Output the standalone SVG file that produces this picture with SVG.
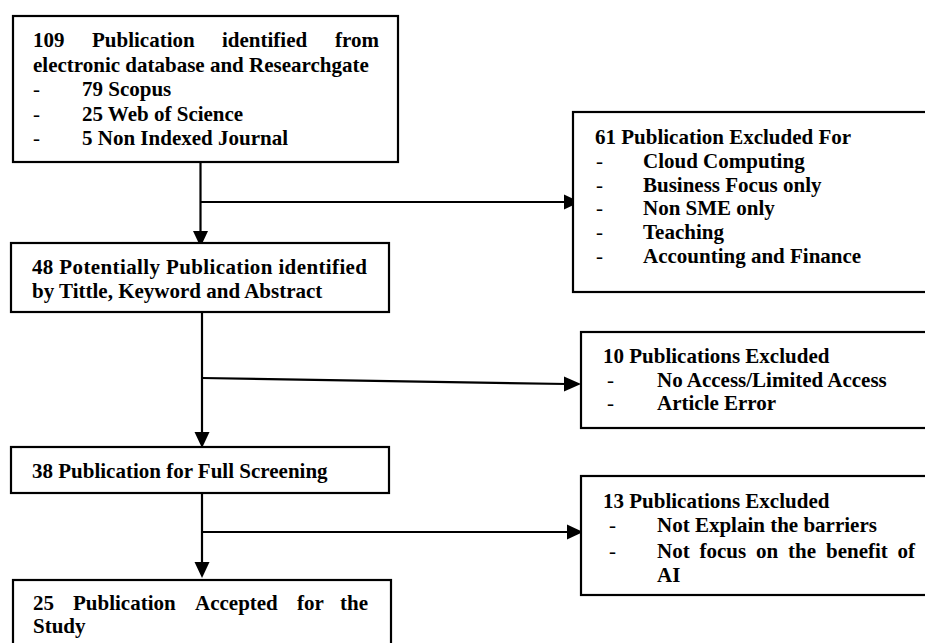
<svg xmlns="http://www.w3.org/2000/svg" width="925" height="643" viewBox="0 0 925 643">
<style>
  .box { fill: #ffffff; stroke: #000000; stroke-width: 2.2; }
  .t { font-family: "Liberation Serif", "Times New Roman", serif; font-size: 21px; font-weight: bold; fill: #000000; }
  .d { font-family: "Liberation Serif", "Times New Roman", serif; font-size: 21px; font-weight: normal; fill: #000000; }
  .ln { stroke: #000000; stroke-width: 2.2; fill: none; }
  .ah { fill: #000000; stroke: none; }
</style>
<rect x="0" y="0" width="925" height="643" fill="#ffffff"/>

<g id="connectors">
  <line class="ln" x1="200.5" y1="162" x2="200.5" y2="234"/>
  <polygon class="ah" points="193,231 208,231 200.5,247"/>
  <line class="ln" x1="200.5" y1="202" x2="567" y2="202"/>
  <polygon class="ah" points="564,194.5 564,209.5 580,202"/>

  <line class="ln" x1="202" y1="312" x2="202" y2="435"/>
  <polygon class="ah" points="194.5,432 209.5,432 202,448"/>
  <line class="ln" x1="202" y1="378" x2="567" y2="384"/>
  <polygon class="ah" points="564,376.5 564,391.5 581,384"/>

  <line class="ln" x1="202" y1="493" x2="202" y2="565"/>
  <polygon class="ah" points="194.5,562 209.5,562 202,578"/>
  <line class="ln" x1="202" y1="532" x2="570" y2="532"/>
  <polygon class="ah" points="567,524.5 567,539.5 583,532"/>
</g>

<g id="node-identified">
  <rect class="box" x="13" y="16" width="385" height="146"/>
  <text class="t" x="33" y="47">109</text>
  <text class="t" x="92" y="47">Publication</text>
  <text class="t" x="222" y="47">identified</text>
  <text class="t" x="379" y="47" text-anchor="end">from</text>
  <text class="t" x="33" y="71.5">electronic database and Researchgate</text>
  <text class="d" x="33" y="96">-</text>
  <text class="t" x="82" y="96">79 Scopus</text>
  <text class="d" x="33" y="120.5">-</text>
  <text class="t" x="82" y="120.5">25 Web of Science</text>
  <text class="d" x="33" y="145">-</text>
  <text class="t" x="82" y="145">5 Non Indexed Journal</text>
</g>

<g id="node-excluded61">
  <rect class="box" x="573" y="112" width="362" height="180"/>
  <text class="t" x="595" y="144">61 Publication Excluded For</text>
  <text class="d" x="596" y="168">-</text>
  <text class="t" x="643" y="168">Cloud Computing</text>
  <text class="d" x="596" y="191.5">-</text>
  <text class="t" x="643" y="191.5">Business Focus only</text>
  <text class="d" x="596" y="215">-</text>
  <text class="t" x="643" y="215">Non SME only</text>
  <text class="d" x="596" y="239">-</text>
  <text class="t" x="643" y="239">Teaching</text>
  <text class="d" x="596" y="263">-</text>
  <text class="t" x="643" y="263">Accounting and Finance</text>
</g>

<g id="node-potential">
  <rect class="box" x="11" y="243" width="378" height="69"/>
  <text class="t" x="32" y="274" textLength="335" lengthAdjust="spacing">48 Potentially Publication identified</text>
  <text class="t" x="32" y="298">by Tittle, Keyword and Abstract</text>
</g>

<g id="node-excluded10">
  <rect class="box" x="581" y="332" width="354" height="96"/>
  <text class="t" x="603" y="363">10 Publications Excluded</text>
  <text class="d" x="607" y="387">-</text>
  <text class="t" x="657" y="387">No Access/Limited Access</text>
  <text class="d" x="607" y="410">-</text>
  <text class="t" x="657" y="410">Article Error</text>
</g>

<g id="node-fullscreen">
  <rect class="box" x="11" y="447" width="378" height="46"/>
  <text class="t" x="32" y="478">38 Publication for Full Screening</text>
</g>

<g id="node-excluded13">
  <rect class="box" x="581" y="476" width="354" height="119"/>
  <text class="t" x="603" y="508">13 Publications Excluded</text>
  <text class="d" x="609" y="532">-</text>
  <text class="t" x="657" y="532">Not Explain the barriers</text>
  <text class="d" x="609" y="558">-</text>
  <text class="t" x="657" y="558">Not</text>
  <text class="t" x="699.5" y="558">focus</text>
  <text class="t" x="756" y="558">on</text>
  <text class="t" x="788" y="558">the</text>
  <text class="t" x="826" y="558">benefit</text>
  <text class="t" x="915" y="558" text-anchor="end">of</text>
  <text class="t" x="657" y="582">AI</text>
</g>

<g id="node-accepted">
  <rect class="box" x="13" y="580" width="378" height="80"/>
  <text class="t" x="33" y="610">25</text>
  <text class="t" x="73" y="610">Publication</text>
  <text class="t" x="195" y="610">Accepted</text>
  <text class="t" x="297" y="610">for</text>
  <text class="t" x="368" y="610" text-anchor="end">the</text>
  <text class="t" x="33" y="633">Study</text>
</g>
</svg>
